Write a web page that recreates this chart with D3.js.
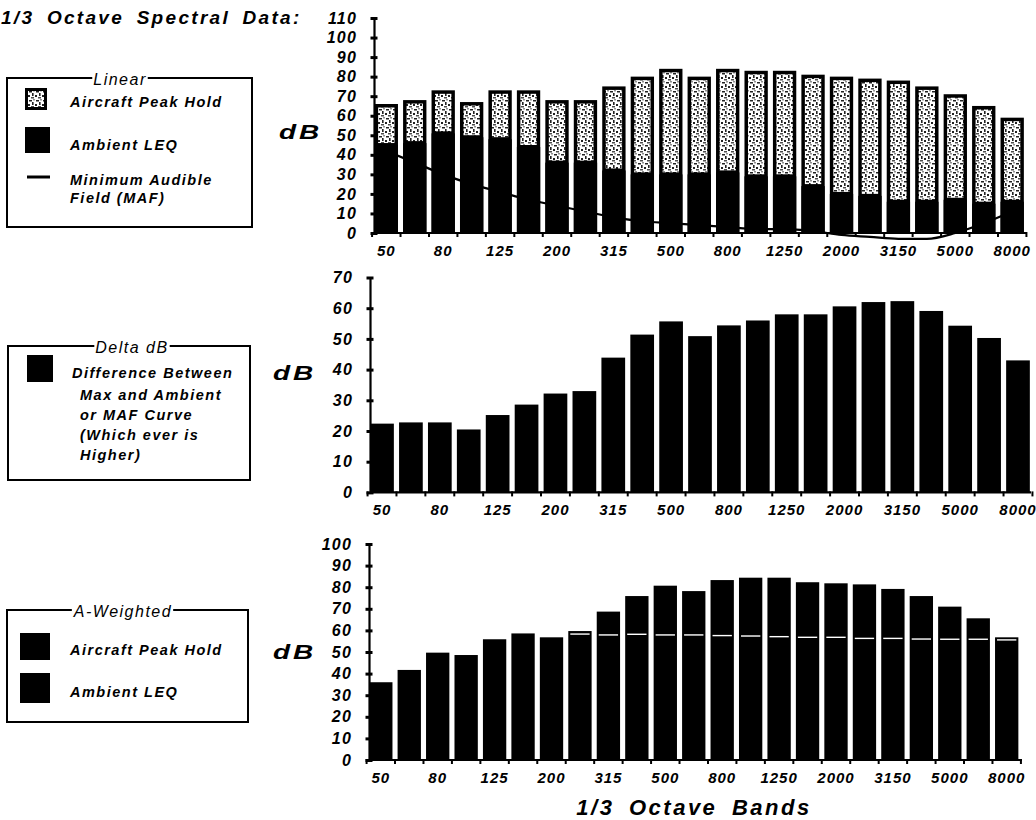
<!DOCTYPE html>
<html>
<head>
<meta charset="utf-8">
<script src="https://cdn.jsdelivr.net/npm/d3@7"></script>
<style>
  html, body { margin: 0; padding: 0; background: #fff; }
  svg { display: block; }
  text { font-family: "Liberation Sans", Arial, Helvetica, sans-serif; font-style: italic; font-weight: bold; fill: #000; }
</style>
</head>
<body>
<script>
// ---------------- DATA ----------------
const bands = ["50","63","80","100","125","160","200","250","315","400","500","630","800","1000","1250","1600","2000","2500","3150","4000","5000","6300","8000"];
const tickLabels = ["50","80","125","200","315","500","800","1250","2000","3150","5000","8000"];

// Linear panel (dB)
const linearPeakHold = [66,68,73,67,73,73,68,68,75,80,84,80,84,83,83,81,80,79,78,75,71,65,59];
const linearAmbientLeq = [45,46,51,49,48,44,36,36,32,30,30,30,31,29,29,24,20,19,16,16,17,15,16];
const mafCurve = [42,36,30,25,21,17,14,11,8,6,5,4,3,2,2,1,-1,-2,-3,-3,0,5,11];

// Delta dB panel
const deltaDb = [22.4,22.8,22.8,20.5,25.2,28.6,32.2,33,43.9,51.4,55.7,50.9,54.4,56,58,58,60.6,62,62.3,59.1,54.3,50.3,43];

// A-weighted panel
const aPeakHold = [36,41.7,49.7,48.6,55.9,58.6,56.8,59.7,68.7,75.9,80.7,78.2,83.3,84.4,84.4,82.3,81.8,81.3,79.2,75.9,71,65.6,56.8];
const aAmbientLeq = [null,null,null,null,null,null,null,58.3,57.9,58.2,57.9,57.9,57.6,57.4,57.1,56.8,56.8,56.3,56.3,56,55.9,55.9,55.6];

const yTicksLinear = d3.range(0, 111, 10);
const yTicksDelta = d3.range(0, 71, 10);
const yTicksA = d3.range(0, 101, 10);

// ---------------- SVG ----------------
const W = 1036, H = 820;
const svg = d3.select("body").append("svg").attr("width", W).attr("height", H);

const defs = svg.append("defs");
const pat = defs.append("pattern").attr("id", "hold").attr("patternUnits", "userSpaceOnUse")
  .attr("width", 7).attr("height", 9);
pat.append("rect").attr("width", 7).attr("height", 9).attr("fill", "#fff");
[[1,1,3,1.5],[4,3,1.6,3],[0,5,2,2],[3,7.2,3,1.2],[5.5,0,1,1.5]].forEach(r =>
  pat.append("rect").attr("x", r[0]).attr("y", r[1]).attr("width", r[2]).attr("height", r[3]).attr("fill", "#222"));

// Title
svg.append("text").attr("x", 1).attr("y", 24)
  .style("font-size", "19px").style("letter-spacing", "2.3px").style("word-spacing", "5px")
  .text("1/3 Octave Spectral Data:");

function panel(cfg) {
  const g = svg.append("g");
  const x = d3.scaleBand().domain(bands).range([cfg.x0, cfg.x1]).paddingInner(0.18).paddingOuter(0.04);
  const y = d3.scaleLinear().domain([0, cfg.max]).range([cfg.yBase, cfg.yTop]);

  // y axis
  const ya = g.append("g").attr("transform", `translate(${cfg.axisX},0)`)
    .call(d3.axisLeft(y).tickValues(cfg.ticks).tickSizeInner(4).tickSizeOuter(0).tickPadding(13));
  ya.select(".domain").attr("stroke-width", 2.2);
  ya.selectAll(".tick line").attr("x1", 3.5).attr("x2", -3.5).attr("stroke-width", 3);
  ya.selectAll(".tick text").style("font-size", "16px").style("letter-spacing", "1.2px")
    .style("font-family", '"Liberation Sans", Arial, sans-serif').style("font-style", "italic").style("font-weight", "bold");

  // x axis
  const xa = g.append("g").attr("transform", `translate(0,${cfg.yBase})`)
    .call(d3.axisBottom(x).tickSize(0).tickPadding(12).tickFormat(d => tickLabels.includes(d) ? d : ""));
  xa.select(".domain").attr("d", `M${cfg.axisX},0H${cfg.axisEnd}`).attr("stroke-width", 2.2);
  xa.selectAll(".tick text").style("font-size", "15px").style("letter-spacing", "1px")
    .style("font-family", '"Liberation Sans", Arial, sans-serif').style("font-style", "italic").style("font-weight", "bold");
  const gap = (x.step() - x.bandwidth()) / 2;
  const bounds = bands.map(b => x(b) - gap).concat([x(bands[bands.length - 1]) + x.bandwidth() + gap]);
  xa.selectAll("line.bnd").data(bounds).join("line").attr("class", "bnd")
    .attr("x1", d => d).attr("x2", d => d).attr("y1", -1).attr("y2", 4)
    .attr("stroke", "#000").attr("stroke-width", 2);

  // dB label
  svg.append("text").attr("transform", `translate(${cfg.dbX},${cfg.dbY}) scale(1.4,1)`)
    .style("font-size", "20px").style("letter-spacing", "2px").text("dB");
  return { g, x, y };
}

// ---------- Panel 1: Linear ----------
const p1 = panel({ x0: 373.5, x1: 1025, yBase: 233, yTop: 18, max: 110, ticks: yTicksLinear,
  axisX: 374, axisEnd: 1027, dbX: 279, dbY: 139 });
{
  const { g, x, y } = p1;
  const line = d3.line().x((d, i) => x(bands[i]) + x.bandwidth() / 2).y(d => y(d)).curve(d3.curveMonotoneX);
  g.append("path").datum(mafCurve).attr("d", line).attr("fill", "none").attr("stroke", "#000").attr("stroke-width", 2.2);
  // peak hold (black outline)
  g.selectAll("rect.peak").data(linearPeakHold).join("rect").attr("class", "peak")
    .attr("x", (d, i) => x(bands[i])).attr("width", x.bandwidth())
    .attr("y", d => y(d)).attr("height", d => y(0) - y(d)).attr("fill", "#000");
  // peak hold inner texture
  g.selectAll("rect.hold").data(linearPeakHold).join("rect").attr("class", "hold")
    .attr("x", (d, i) => x(bands[i]) + 3.5).attr("width", x.bandwidth() - 7)
    .attr("y", d => y(d) + 3.5)
    .attr("height", (d, i) => Math.max(0, y(linearAmbientLeq[i]) - y(d) - 5.5))
    .attr("fill", "url(#hold)");
  // ambient LEQ
  g.selectAll("rect.amb").data(linearAmbientLeq).join("rect").attr("class", "amb")
    .attr("x", (d, i) => x(bands[i])).attr("width", x.bandwidth())
    .attr("y", d => y(d)).attr("height", d => y(0) - y(d)).attr("fill", "#000");
}

// ---------- Panel 2: Delta dB ----------
const p2 = panel({ x0: 369, x1: 1031, yBase: 492.4, yTop: 277.5, max: 70, ticks: yTicksDelta,
  axisX: 370, axisEnd: 1031, dbX: 273, dbY: 380 });
{
  const { g, x, y } = p2;
  g.selectAll("rect.delta").data(deltaDb).join("rect").attr("class", "delta")
    .attr("x", (d, i) => x(bands[i])).attr("width", x.bandwidth())
    .attr("y", d => y(d)).attr("height", d => y(0) - y(d)).attr("fill", "#000");
}

// ---------- Panel 3: A-weighted ----------
const p3 = panel({ x0: 368, x1: 1019.5, yBase: 760, yTop: 544, max: 100, ticks: yTicksA,
  axisX: 369, axisEnd: 1022, dbX: 273, dbY: 659 });
{
  const { g, x, y } = p3;
  g.selectAll("rect.apeak").data(aPeakHold).join("rect").attr("class", "apeak")
    .attr("x", (d, i) => x(bands[i])).attr("width", x.bandwidth())
    .attr("y", d => y(d)).attr("height", d => y(0) - y(d)).attr("fill", "#000");
  const amb = aAmbientLeq.map((v, i) => ({ v, i })).filter(d => d.v != null);
  g.selectAll("line.aamb").data(amb).join("line").attr("class", "aamb")
    .attr("x1", d => x(bands[d.i]) + 2).attr("x2", d => x(bands[d.i]) + x.bandwidth() - 2)
    .attr("y1", d => y(d.v)).attr("y2", d => y(d.v)).attr("stroke", "#fff").attr("stroke-width", 1.4);
}

// X axis title
svg.append("text").attr("x", 694).attr("y", 815).attr("text-anchor", "middle")
  .style("font-size", "22px").style("letter-spacing", "2.5px").style("word-spacing", "6px")
  .text("1/3 Octave Bands");

// ---------------- LEGENDS ----------------
function legendBox(x, y, w, h, title, tx) {
  const g = svg.append("g");
  g.append("rect").attr("x", x).attr("y", y).attr("width", w).attr("height", h)
    .attr("fill", "none").attr("stroke", "#000").attr("stroke-width", 2);
  const bg = g.append("rect").attr("fill", "#fff");
  const t = g.append("text").attr("x", tx).attr("y", y + 7).attr("text-anchor", "middle")
    .style("font-size", "16px").style("letter-spacing", "1.5px").style("font-weight", "normal").text(title);
  const bb = t.node().getBBox();
  bg.attr("x", bb.x - 1).attr("y", y - 3).attr("width", bb.width + 2).attr("height", 6);
  return g;
}
function legText(g, x, y, s) {
  g.append("text").attr("x", x).attr("y", y).style("font-size", "14.5px").style("letter-spacing", "1.5px").text(s);
}

// Linear legend
{
  const g = legendBox(7, 78, 245, 149, "Linear", 120);
  g.append("rect").attr("x", 25).attr("y", 88).attr("width", 22).attr("height", 22).attr("fill", "#000");
  g.append("rect").attr("x", 28).attr("y", 91).attr("width", 16).attr("height", 16).attr("fill", "url(#hold)");
  g.append("rect").attr("x", 25).attr("y", 127).attr("width", 25).attr("height", 26).attr("fill", "#000");
  g.append("line").attr("x1", 27).attr("x2", 50).attr("y1", 177).attr("y2", 177).attr("stroke", "#000").attr("stroke-width", 3);
  legText(g, 70, 107, "Aircraft Peak Hold");
  legText(g, 70, 150, "Ambient LEQ");
  legText(g, 70, 185, "Minimum Audible");
  legText(g, 70, 203, "Field (MAF)");
}
// Delta legend
{
  const g = legendBox(8, 346, 242, 134, "Delta dB", 132);
  g.append("rect").attr("x", 27).attr("y", 355).attr("width", 26).attr("height", 27).attr("fill", "#000");
  legText(g, 72, 378, "Difference Between");
  legText(g, 80, 400, "Max and  Ambient");
  legText(g, 80, 420, "or MAF Curve");
  legText(g, 80, 440, "(Which ever is");
  legText(g, 80, 460, "Higher)");
}
// A-weighted legend
{
  const g = legendBox(7, 610, 241, 112, "A-Weighted", 123);
  g.append("rect").attr("x", 20).attr("y", 633).attr("width", 30).attr("height", 27).attr("fill", "#000");
  g.append("rect").attr("x", 20).attr("y", 673).attr("width", 30).attr("height", 30).attr("fill", "#000");
  legText(g, 70, 655, "Aircraft Peak Hold");
  legText(g, 70, 697, "Ambient LEQ");
}
</script>
</body>
</html>
